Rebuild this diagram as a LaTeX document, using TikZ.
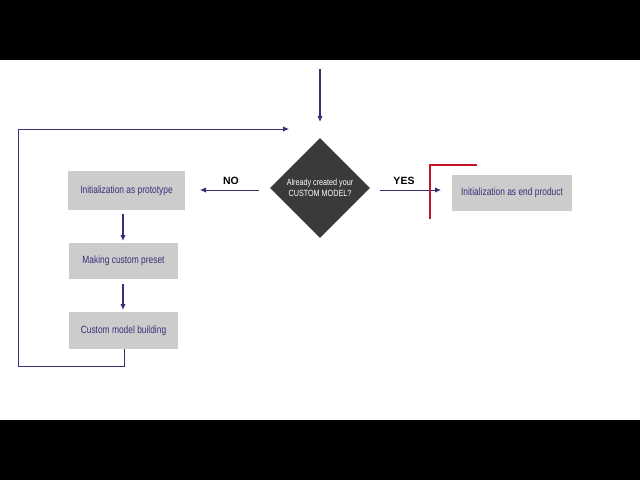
\documentclass[tikz,border=0pt]{standalone}
\usepackage{fontspec}
\setmainfont{Liberation Sans}
\usetikzlibrary{arrows.meta,shapes.geometric}
\definecolor{navy}{RGB}{55,48,120}
\definecolor{boxgray}{RGB}{204,204,204}
\definecolor{dia}{RGB}{58,58,58}
\definecolor{redl}{RGB}{200,20,40}
\begin{document}
\begin{tikzpicture}[x=1pt,y=-1pt,
  procbox/.style={fill=boxgray,text=navy,inner sep=0pt,font=\fontsize{10.5}{12}\selectfont},
  conn/.style={draw=navy,line width=0.9pt,-{Latex[length=6pt,width=5.5pt]}},
  thick conn/.style={conn,line width=1.6pt},
  lbl/.style={font=\bfseries\fontsize{10.5}{12}\selectfont}]
\fill[black] (0,0) rectangle (640,60);
\fill[black] (0,420) rectangle (640,480);
\useasboundingbox (0,0) rectangle (640,480);
\node[diamond,fill=dia,minimum width=100pt,minimum height=100pt,inner sep=0pt,text=white,align=center,font=\fontsize{9}{11.5}\selectfont] (q) at (320,188) {\scalebox{0.8}[1]{Already created your}\\\scalebox{0.8}[1]{CUSTOM MODEL?}};
\coordinate (top) at (320,69);
\coordinate (qin) at (320,122);
\node[procbox,minimum width=117pt,minimum height=39pt] (b1) at (126.5,190.5) {\scalebox{0.8}[1]{Initialization as prototype}};
\node[procbox,minimum width=109pt,minimum height=36pt] (b2) at (123.5,261) {\scalebox{0.8}[1]{Making custom preset}};
\node[procbox,minimum width=109pt,minimum height=37pt] (b3) at (123.5,330.5) {\scalebox{0.8}[1]{Custom model building}};
\node[procbox,minimum width=120pt,minimum height=36pt] (b4) at (512,193) {\scalebox{0.8}[1]{Initialization as end product}};
\coordinate (noS) at (259,190);
\coordinate (noE) at (200,190);
\coordinate (yesS) at (380,190);
\coordinate (yesE) at (441,190);
\coordinate (a1s) at (123,214);
\coordinate (a1e) at (123,241);
\coordinate (a2s) at (123,284);
\coordinate (a2e) at (123,310);
\coordinate (l0) at (124,349);
\coordinate (l1) at (124,366);
\coordinate (l2) at (18,366);
\coordinate (l3) at (18,129);
\coordinate (l4) at (289,129);
\draw[thick conn] (top) -- (qin);
\draw[conn] (noS) -- (noE);
\draw[conn] (yesS) -- (yesE);
\draw[thick conn] (a1s) -- (a1e);
\draw[thick conn] (a2s) -- (a2e);
\draw[conn] (l0) -- (l1) -- (l2) -- (l3) -- (l4);
\node[lbl] (no) at (231,181) {NO};
\node[lbl] (yes) at (404,181) {YES};
\coordinate (r1) at (430,219);
\coordinate (r2) at (430,165);
\coordinate (r3) at (477,165);
\draw[redl,line width=1.5pt] (r1) -- (r2) -- (r3);
\end{tikzpicture}
\end{document}
